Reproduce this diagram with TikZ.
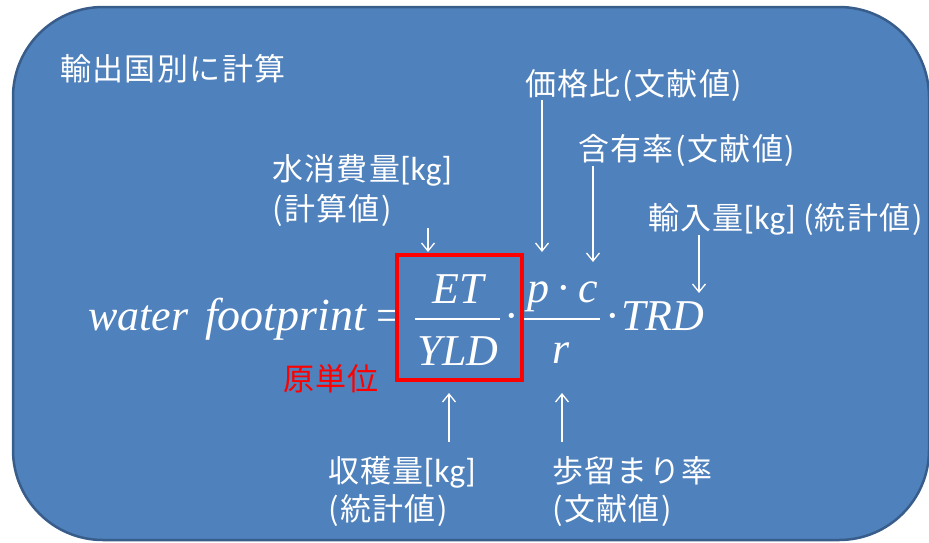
\documentclass[tikz,border=0pt]{standalone}
\usepackage{fontspec}
\usetikzlibrary{arrows.meta}
\newfontfamily\jpf[LetterSpace=4.5]{Noto Sans CJK JP}
\newfontfamily\ltf[Scale=1.08]{Carlito}
\newfontfamily\tmsf{Liberation Serif}
\newcommand{\lat}[1]{{\ltf #1}}
\definecolor{boxfill}{HTML}{4F81BD}
\definecolor{boxline}{HTML}{385D8A}
\begin{document}
\begin{tikzpicture}[x=1pt,y=-1pt,
  lab/.style={anchor=base west,inner sep=0pt,text=white,font=\jpf\fontsize{31}{31}\selectfont},
  fm/.style={anchor=base,inner sep=0pt,text=white,font=\tmsf\itshape\fontsize{44}{44}\selectfont},
  fmup/.style={anchor=base,inner sep=0pt,text=white,font=\tmsf\fontsize{44}{44}\selectfont},
  bar/.style={draw=white,line width=1.3pt},
  arr/.style={draw=white,line width=1.3pt,-{Straight Barb[length=8pt,width=13pt]}}]
\useasboundingbox (0,0) rectangle (929,542);
\begin{scope}
\clip (0,0) rectangle (929,542);
\draw[fill=boxfill,draw=boxline,line width=2.5pt,rounded corners=90pt] (13,7) rectangle (929,540);
\end{scope}
% formula
\node[fm,anchor=base west] (wa) at (88,330) {water};
\node[fm,anchor=base west,font=\tmsf\itshape\fontsize{46}{46}\selectfont] (fp) at (205,330) {footprint};
\node[fmup] (eq) at (389,330) {=};
\node[fm] (et) at (458,303) {ET};
\coordinate (b1l) at (415,319);
\coordinate (b1r) at (500,319);
\draw[bar] (b1l) -- (b1r);
\node[fm] (yld) at (458,365) {YLD};
\node[fmup] (d1) at (512,330) {·};
\node[fm] (pc) at (563,302) {p\,{\upshape·}\,c};
\coordinate (b2l) at (523,319);
\coordinate (b2r) at (600,319);
\draw[bar] (b2l) -- (b2r);
\node[fm] (r) at (561,363) {r};
\node[fmup] (d2) at (613,330) {·};
\node[fm,anchor=base west] (trd) at (621,330) {TRD};
\node[draw=red,line width=3.5pt,minimum width=125pt,minimum height=125pt,inner sep=0pt] (ub) at (459.5,317.5) {};
% labels
\node[lab] (tl) at (60,80) {輸出国別に計算};
\node[lab] (kk) at (525,95) {価格比(文献値)};
\node[lab] (gy) at (578,160) {含有率(文献値)};
\node[lab] (ws1) at (272,180) {水消費量\lat{[kg]}};
\node[lab] (ws2) at (272,220) {(計算値)};
\node[lab] (yn) at (648,229) {輸入量\lat{[kg] }(統計値)};
\node[lab,text=red] (gt) at (283,390) {原単位};
\node[lab] (sk1) at (328,482) {収穫量\lat{[kg]}};
\node[lab] (sk2) at (328,520) {(統計値)};
\node[lab] (bd1) at (552,482) {歩留まり率};
\node[lab] (bd2) at (552,520) {(文献値)};
% arrows
\coordinate (sA) at (428,228); \coordinate (tA) at (428,252);
\coordinate (sB) at (542,100); \coordinate (tB) at (542,252);
\coordinate (sC) at (593,166); \coordinate (tC) at (593,262);
\coordinate (sD) at (699,235); \coordinate (tD) at (699,293);
\coordinate (sE) at (449,442); \coordinate (tE) at (449,393);
\coordinate (sF) at (562,442); \coordinate (tF) at (562,393);
\draw[arr] (sA) -- (tA);
\draw[arr] (sB) -- (tB);
\draw[arr] (sC) -- (tC);
\draw[arr] (sD) -- (tD);
\draw[arr] (sE) -- (tE);
\draw[arr] (sF) -- (tF);
\end{tikzpicture}
\end{document}
